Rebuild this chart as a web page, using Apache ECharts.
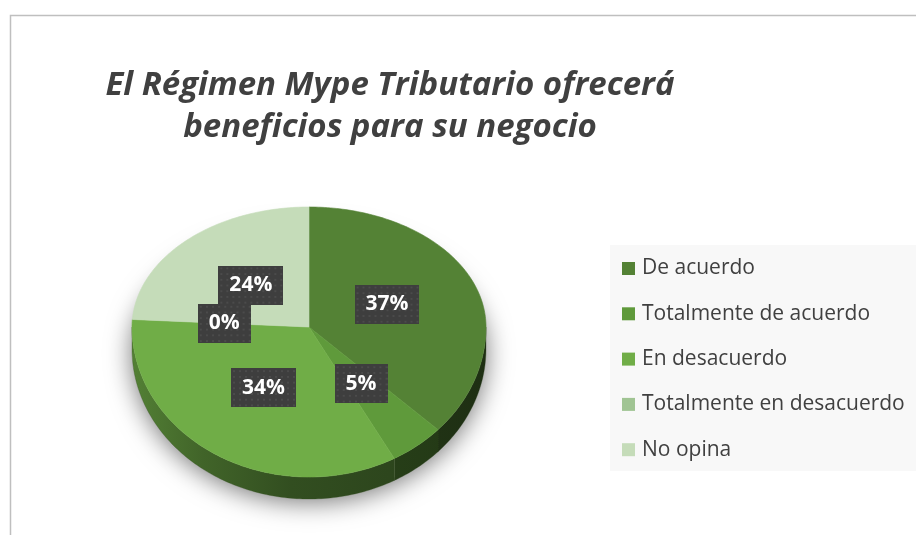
<!DOCTYPE html>
<html>
<head>
    <meta charset="utf-8"/>
    <title></title>
    <script src="https://cdn.jsdelivr.net/npm/echarts@6/dist/echarts.min.js"></script>
    <style>
        html, body { margin: 0; padding: 0; background: #fff; }
        #main { width: 916px; height: 535px; }
    </style>
</head>
<body>
<div id="main"></div>
<script type="text/javascript">
    /* datos */
    var categorias = ['De acuerdo', 'Totalmente de acuerdo', 'En desacuerdo', 'Totalmente en desacuerdo', 'No opina'];
    var valores = [37, 5, 34, 0, 24];
    var titulo = 'El Régimen Mype Tributario ofrecerá\nbeneficios para su negocio';

    /* estilos */
    var colores = ['#548235', '#5f9a3b', '#70ad47', '#a0c493', '#c5dcb9'];
    var fuente = '"Open Sans", Lato, sans-serif';

    /* geometría del pastel 3D (elipse con perspectiva) */
    var cx = 309, cy = 327, rx = 177, ryArriba = 120, ryAbajo = 150, grosor = 22;

    var total = valores.reduce(function (a, b) { return a + b; }, 0);
    var inicio = [];
    var acum = 0;
    for (var i = 0; i < valores.length; i++) {
        inicio.push(acum / total * 360);
        acum += valores[i];
    }

    /* fondo punteado de las etiquetas */
    function fondoPunteado(w, h) {
        var cv = document.createElement('canvas');
        cv.width = w; cv.height = h;
        var ctx = cv.getContext('2d');
        ctx.fillStyle = '#3e3e3e';
        ctx.fillRect(0, 0, w, h);
        ctx.fillStyle = '#4b4b4b';
        for (var y = 2; y < h; y += 6) {
            for (var x = 2; x < w; x += 6) {
                ctx.fillRect(x, y, 2, 2);
            }
        }
        return cv;
    }
    var fondoAncho = fondoPunteado(65, 41);
    var fondoAngosto = fondoPunteado(52, 41);

    function punto(ang, f, dy) {
        var rad = ang * Math.PI / 180;
        var c = Math.cos(rad);
        var ry = c > 0 ? ryArriba : ryAbajo;
        return [cx + rx * f * Math.sin(rad), cy - ry * f * c + (dy || 0)];
    }

    function oscurecer(hex, k) {
        var n = parseInt(hex.slice(1), 16);
        var r = Math.round(((n >> 16) & 255) * k);
        var g = Math.round(((n >> 8) & 255) * k);
        var b = Math.round((n & 255) * k);
        return 'rgb(' + r + ',' + g + ',' + b + ')';
    }

    function renderPorcion(idx) {
        return function (params, api) {
            var v = api.value(0);
            var a0 = inicio[idx], a1 = a0 + v / total * 360;
            var hijos = [];
            var a;

            if (idx === 0) {
                /* sombra bajo el pastel */
                var sombra = [];
                for (a = 0; a <= 360; a += 3) sombra.push(punto(a, 1, grosor - 3));
                hijos.push({
                    type: 'polygon', shape: {points: sombra}, z2: 0,
                    style: {fill: '#ffffff', shadowBlur: 26, shadowColor: 'rgba(0,0,0,0.55)', shadowOffsetY: 6}
                });
            }

            /* lado visible */
            var s0 = Math.max(a0, 90), s1 = Math.min(a1, 270);
            if (v > 0 && s1 > s0) {
                var lado = [];
                for (a = s0; a < s1; a += 1) lado.push(punto(a, 1, 0));
                lado.push(punto(s1, 1, 0));
                for (a = s1; a > s0; a -= 1) lado.push(punto(a, 1, grosor));
                lado.push(punto(s0, 1, grosor));
                hijos.push({
                    type: 'polygon', shape: {points: lado}, z2: 5,
                    style: {
                        fill: new echarts.graphic.LinearGradient(cx - rx, 0, cx + rx, 0, [
                            {offset: 0, color: oscurecer(colores[idx], 0.74)},
                            {offset: 0.2, color: oscurecer(colores[idx], 0.58)},
                            {offset: 0.45, color: oscurecer(colores[idx], 0.45)},
                            {offset: 1, color: oscurecer(colores[idx], 0.36)}
                        ], true),
                        stroke: oscurecer(colores[idx], 0.45), lineWidth: 0.3
                    }
                });
            }

            /* cara superior */
            if (v > 0) {
                var cara = [[cx, cy]];
                for (a = a0; a < a1; a += 1) cara.push(punto(a, 1, 0));
                cara.push(punto(a1, 1, 0));
                hijos.push({
                    type: 'polygon', shape: {points: cara}, z2: 10,
                    style: {fill: colores[idx], stroke: colores[idx], lineWidth: 0.6}
                });
            }

            /* etiqueta */
            var pct = Math.round(v / total * 100);
            var p = punto((a0 + a1) / 2, 0.48, 0);
            hijos.push({
                type: 'text', x: p[0], y: p[1], z2: 100,
                style: {
                    text: pct + '%',
                    fill: '#ffffff',
                    font: 'bold 21px ' + fuente,
                    align: 'center', verticalAlign: 'middle',
                    backgroundColor: {image: pct >= 10 ? fondoAncho : fondoAngosto},
                    padding: [9, 11, 9, 11],
                    boxShadowBlur: 6, boxShadowColor: 'rgba(0,0,0,0.45)',
                    boxShadowOffsetX: 2, boxShadowOffsetY: 2
                }
            });
            return {type: 'group', children: hijos};
        };
    }

    var series = [];
    for (var k = 0; k < categorias.length; k++) {
        series.push({
            name: categorias[k],
            type: 'custom',
            coordinateSystem: 'none',
            itemStyle: {color: colores[k]},
            data: [[valores[k]]],
            renderItem: renderPorcion(k)
        });
    }

    var chart = echarts.init(document.getElementById('main'));
    var option = {
        animation: false,
        graphic: [
            {
                type: 'rect', left: 8, top: 13, z: -10,
                shape: {width: 1000, height: 600},
                style: {fill: 'none', stroke: '#bfbfbf', lineWidth: 1.5}
            },
            {
                type: 'rect', left: 610, top: 245, z: -5,
                shape: {width: 306, height: 226},
                style: {fill: '#f8f8f8'}
            },
            {
                type: 'text', x: 390, y: 107, z: 10,
                style: {
                    text: titulo, fill: '#404040',
                    font: 'italic bold 33px ' + fuente,
                    lineHeight: 42, align: 'center', verticalAlign: 'middle'
                }
            }
        ],
        legend: {
            orient: 'vertical',
            left: 622, top: 258, padding: 0,
            itemWidth: 13, itemHeight: 13, itemGap: 24.3,
            icon: 'rect',
            textStyle: {fontSize: 21, lineHeight: 18, color: '#404040', fontFamily: fuente, padding: [0, 0, 0, 2]},
            data: categorias
        },
        series: series
    };
    chart.setOption(option);
    window.onresize = chart.resize;
</script>
</body>
</html>
